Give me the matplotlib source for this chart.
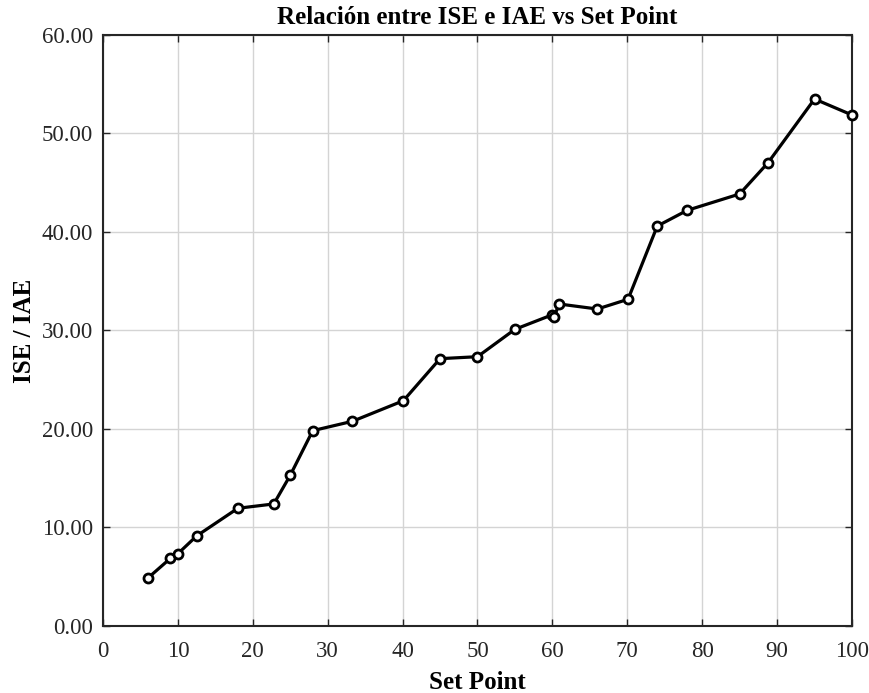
import matplotlib
matplotlib.use("Agg")
import matplotlib.pyplot as plt
from matplotlib.ticker import FormatStrFormatter, MultipleLocator

set_point = [6.0, 9.0, 10.0, 12.5, 18.0, 22.8, 25.0, 28.0, 33.3, 40.1, 45.0, 50.0,
             55.0, 59.9, 60.2, 60.9, 66.0, 70.1, 74.0, 78.0, 85.0, 88.8, 95.0, 100.0]
ise_iae = [4.87, 6.87, 7.34, 9.14, 11.95, 12.39, 15.3, 19.83, 20.78, 22.87, 27.14, 27.34,
           30.12, 31.57, 31.34, 32.69, 32.18, 33.17, 40.6, 42.2, 43.86, 47.04, 53.5, 51.88]

title = "Relación entre ISE e IAE vs Set Point"
xlabel = "Set Point"
ylabel = "ISE / IAE"

plt.rcParams['font.family'] = ['Liberation Serif', 'DejaVu Serif']

fig = plt.figure(figsize=(8.7, 6.93), dpi=100)
ax = fig.add_axes([0.1184, 0.0967, 0.8609, 0.8528])

ax.plot(set_point, ise_iae, color='black', linewidth=2.3, marker='o', markersize=6.5,
        markerfacecolor='white', markeredgecolor='black', markeredgewidth=2.0,
        zorder=3, clip_on=False)

ax.set_xlim(0, 100)
ax.set_ylim(0, 60)
ax.xaxis.set_major_locator(MultipleLocator(10))
ax.yaxis.set_major_locator(MultipleLocator(10))
ax.yaxis.set_major_formatter(FormatStrFormatter('%.2f'))
ax.grid(True, color='#d4d4d4', linewidth=1.0)
ax.set_axisbelow(True)
ax.tick_params(direction='in', top=True, right=True, length=5, width=1.0,
               labelsize=16.5, colors='#262626')
ax.tick_params(axis='x', pad=11)
ax.tick_params(axis='y', pad=7)
for s in ax.spines.values():
    s.set_linewidth(1.5)
    s.set_color('#262626')

ax.set_title(title, fontsize=18, fontweight='bold', pad=8)
ax.set_xlabel(xlabel, fontsize=18, fontweight='bold', labelpad=6)
ax.set_ylabel(ylabel, fontsize=18, fontweight='bold', labelpad=4)

fig.savefig("out.png", dpi=100)
